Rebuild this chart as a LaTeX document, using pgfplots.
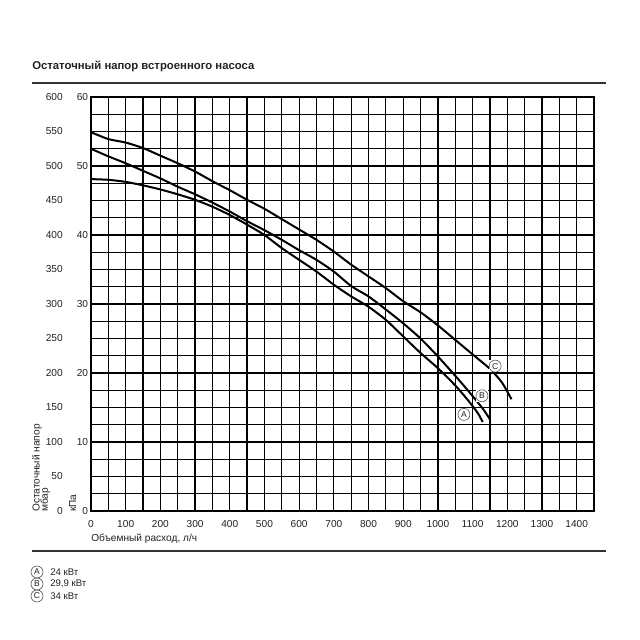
\documentclass[border=0pt]{standalone}
\usepackage{pgfplots}
\pgfplotsset{compat=1.18}
\usepackage{fontspec}
\setmainfont{Liberation Sans}
\definecolor{txt}{HTML}{222222}
\definecolor{rule}{HTML}{333333}
\newcommand{\circled}[1]{\tikz[baseline=(c.base)]\node[circle,draw=rule!85,line width=0.45pt,inner sep=0.4pt,minimum size=9pt,font=\fontsize{6.4}{6.5}\selectfont,text=txt] (c) {#1};}
\begin{document}
\begin{tikzpicture}
\path[use as bounding box] (0,0) rectangle (480pt,480pt);
% title and rules
\node[anchor=west,font=\bfseries\fontsize{8.5}{10}\selectfont,text=txt,inner sep=0pt] at (24pt,430.5pt) {Остаточный напор встроенного насоса};
\draw[rule,line width=0.9pt] (24pt,417.75pt) -- (454.5pt,417.75pt);
\draw[rule,line width=0.9pt] (24pt,66.75pt) -- (454.5pt,66.75pt);
\begin{axis}[
    at={(68.25pt,96.75pt)}, anchor=south west,
    scale only axis, width=377.25pt, height=310.5pt,
    xmin=0, xmax=1450, ymin=0, ymax=600,
    xtick={0,100,...,1400}, minor xtick={50,150,...,1450},
    ytick={0,100,...,600}, yticklabels={0,10,20,30,40,50,60},
    minor ytick={25,50,...,575},
    grid=both,
    grid style={black,line width=0.95pt},
    minor grid style={black,line width=0.95pt},
    axis line style={black,line width=0.95pt},
    major tick length=0pt, minor tick length=0pt,
    tick label style={font=\fontsize{7.6}{8}\selectfont,text=txt},
    /pgf/number format/assume math mode=true,
    /pgf/number format/1000 sep={},
    yticklabel style={anchor=east,inner sep=0pt,xshift=-2pt},
    xticklabel style={inner sep=0pt,yshift=-6.5pt},
    extra y ticks={0,50,...,600},
    extra y tick style={grid=none,yticklabel style={xshift=-19pt}},
    clip=false,
]
\addplot[black,line width=1.5pt,smooth,tension=0.4] coordinates {
(0,481) (50,480) (100,477) (150,472) (200,466) (250,459) (300,451) (350,441)
(400,429) (450,415) (500,400) (550,381) (600,364) (650,347) (700,328) (750,311)
(800,296) (850,277) (900,253) (950,229) (1000,207) (1050,182) (1086,161) (1115,142) (1129,129)};
\addplot[black,line width=1.5pt,smooth,tension=0.4] coordinates {
(0,525) (50,514) (100,504) (150,493) (200,482) (250,470) (300,459) (350,447)
(400,434) (450,420) (500,407) (550,393) (600,378) (650,364) (700,347) (750,326)
(800,311) (850,292) (900,272) (950,250) (1000,224) (1050,196) (1086,175) (1130,148) (1151,132)};
\addplot[black,line width=1.5pt,smooth,tension=0.4] coordinates {
(0,549) (50,539) (100,534) (150,526) (200,515) (250,504) (300,492) (350,478)
(400,465) (450,451) (500,438) (550,423) (600,408) (650,393) (700,376) (750,357)
(800,340) (850,323) (900,304) (950,288) (1000,269) (1050,248) (1100,227) (1150,206) (1185,186) (1212,162)};
\node[fill=white,inner sep=0pt] at (axis cs:1075,140) {\circled{A}};
\node[fill=white,inner sep=0pt] at (axis cs:1127,167) {\circled{B}};
\node[fill=white,inner sep=0pt] at (axis cs:1165,210) {\circled{C}};
\end{axis}
% axis titles
\node[anchor=west,font=\fontsize{7.6}{8}\selectfont,text=txt,inner sep=0pt] at (68.25pt,76pt) {Объемный расход, л/ч};
\node[rotate=90,anchor=west,font=\fontsize{7.6}{8}\selectfont,text=txt,inner sep=0pt] at (27.75pt,96pt) {Остаточный напор};
\node[rotate=90,anchor=west,font=\fontsize{7.6}{8}\selectfont,text=txt,inner sep=0pt] at (33.9pt,96pt) {мбар};
\node[rotate=90,anchor=west,font=\fontsize{7.6}{8}\selectfont,text=txt,inner sep=0pt] at (54.5pt,96pt) {кПа};
% legend
\node at (27.75pt,51pt) {\circled{A}};
\node at (27.75pt,42pt) {\circled{B}};
\node at (27.75pt,33pt) {\circled{C}};
\node[anchor=west,font=\fontsize{7.2}{8}\selectfont,text=txt,inner sep=0pt] at (37.5pt,51pt) {24 кВт};
\node[anchor=west,font=\fontsize{7.2}{8}\selectfont,text=txt,inner sep=0pt] at (37.5pt,42pt) {29,9 кВт};
\node[anchor=west,font=\fontsize{7.2}{8}\selectfont,text=txt,inner sep=0pt] at (37.5pt,33pt) {34 кВт};
\end{tikzpicture}
\end{document}
